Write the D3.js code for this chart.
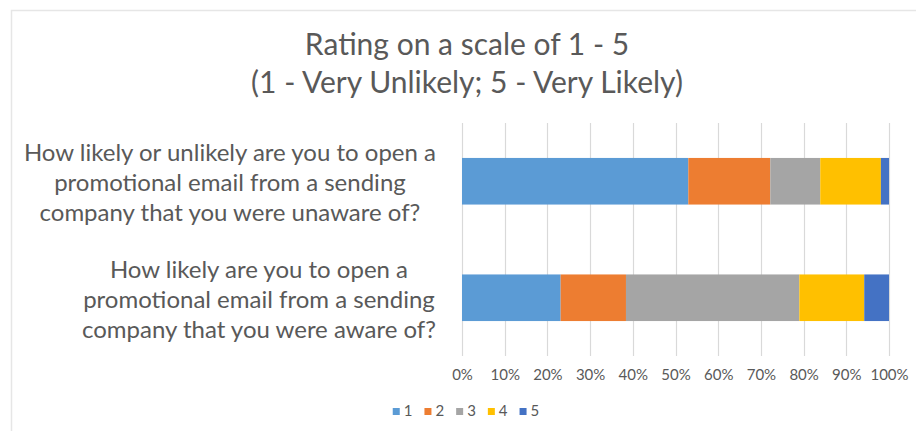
<!DOCTYPE html>
<html lang="en">
    <head>
        <meta charset="utf-8">
        <title>Rating on a scale of 1 - 5</title>
        <script src="https://d3js.org/d3.v7.min.js"></script>
        <style type="text/css">
            body { margin: 0; background: #fff; }
            text { font-family: Lato, "Open Sans", sans-serif; fill: #595959; }
        </style>
    </head>
    <body>
        <script type="text/javascript">

            //Data
            const questions = [
                "How likely or unlikely are you to open a promotional email from a sending company that you were unaware of?",
                "How likely are you to open a promotional email from a sending company that you were aware of?"
            ];
            //wrapped the way the original labels are
            const questionLines = [
                ["How likely or unlikely are you to open a", "promotional email from a sending", "company that you were unaware of?"],
                ["How likely are you to open a", "promotional email from a sending", "company that you were aware of?"]
            ];
            const ratings = ["1", "2", "3", "4", "5"];
            //share of answers (%) per rating, one array per question
            const unawareShares = [53.0, 19.2, 11.7, 14.2, 1.9];
            const awareShares = [23.1, 15.3, 40.6, 15.2, 5.8];
            const xTicks = [0, 0.1, 0.2, 0.3, 0.4, 0.5, 0.6, 0.7, 0.8, 0.9, 1];
            const titleLines = ["Rating on a scale of 1 - 5", "(1 - Very Unlikely; 5 - Very Likely)"];

            //build table for d3.stack
            const shares = [unawareShares, awareShares];
            const data = questions.map((q, i) => {
                const row = { question: q };
                ratings.forEach((r, j) => { row[r] = shares[i][j] / 100; });
                return row;
            });

            //declare consts
            const w = 916;
            const h = 431;
            const margin = { top: 123, right: 27, bottom: 75, left: 462 };

            const myColor = d3.scaleOrdinal()
                .domain(ratings)
                .range(["#5B9BD5", "#ED7D31", "#A5A5A5", "#FFC000", "#4472C4"]);

            const x = d3.scaleLinear()
                .domain([0, 1])
                .range([margin.left, w - margin.right]);

            const y = d3.scaleBand()
                .domain(questions)
                .range([margin.top, h - margin.bottom])
                .paddingInner(0.6)
                .paddingOuter(0.3);

            const svg = d3.select("body")
                .append("svg")
                .attr("width", w)
                .attr("height", h);

            //chart border (only top & left visible in the crop)
            svg.append("path")
                .attr("d", "M11.5,431V10.5H916")
                .attr("fill", "none")
                .attr("stroke", "#e6e6e6")
                .attr("stroke-width", 1.5);

            //title
            svg.append("text")
                .attr("text-anchor", "middle")
                .style("font-size", "30px")
                .selectAll("tspan")
                .data(titleLines)
                .join("tspan")
                .attr("x", 467)
                .attr("y", (d, i) => 55 + i * 37.5)
                .text(d => d);

            //gridlines
            svg.append("g")
                .selectAll("line")
                .data(xTicks)
                .join("line")
                .attr("x1", d => Math.round(x(d)) + 0.5)
                .attr("x2", d => Math.round(x(d)) + 0.5)
                .attr("y1", margin.top)
                .attr("y2", h - margin.bottom)
                .attr("stroke", "#d9d9d9")
                .attr("stroke-width", 1.2);

            //stacked bars
            const stack = d3.stack().keys(ratings);
            const series = stack(data);

            svg.append("g")
                .selectAll("g")
                .data(series)
                .join("g")
                .attr("fill", d => myColor(d.key))
                .selectAll("rect")
                .data(d => d)
                .join("rect")
                .attr("x", d => x(d[0]))
                .attr("width", d => x(d[1]) - x(d[0]))
                .attr("y", d => y(d.data.question))
                .attr("height", y.bandwidth());

            //x axis
            const xAxis = svg.append("g")
                .attr("transform", "translate(0," + (h - margin.bottom) + ")")
                .call(d3.axisBottom(x).tickValues(xTicks).tickFormat(d3.format(".0%")).tickSize(0).tickPadding(13));
            xAxis.select(".domain").remove();
            xAxis.selectAll("text")
                .style("font-size", "15px")
                .style("font-family", "Lato, sans-serif")
                .attr("fill", "#595959");

            //category labels: block right aligned, lines centred in the block
            const labelRight = 436;
            const labels = svg.append("g").style("font-size", "24px");
            questions.forEach((q, i) => {
                const t = labels.append("text").attr("text-anchor", "middle");
                const spans = t.selectAll("tspan")
                    .data(questionLines[i])
                    .join("tspan")
                    .attr("y", (d, k) => y(q) + y.bandwidth() / 2 + 10 + (k - 1) * 30)
                    .text(d => d);
                let maxW = 0;
                spans.each(function() { maxW = Math.max(maxW, this.getComputedTextLength()); });
                spans.attr("x", labelRight - maxW / 2);
            });

            //legend
            const legend = svg.append("g");
            const items = legend.selectAll("g")
                .data(ratings)
                .join("g");
            items.append("rect")
                .attr("width", 7)
                .attr("height", 7)
                .attr("y", -8)
                .attr("fill", d => myColor(d));
            items.append("text")
                .attr("x", 11)
                .attr("y", 0)
                .style("font-size", "15px")
                .text(d => d);
            let lx = 0;
            items.each(function() {
                d3.select(this).attr("transform", "translate(" + lx + ",0)");
                lx += 11 + this.querySelector("text").getComputedTextLength() + 12;
            });
            lx -= 12;
            legend.attr("transform", "translate(" + (466 - lx / 2) + ",416)");

        </script>
    </body>
</html>
